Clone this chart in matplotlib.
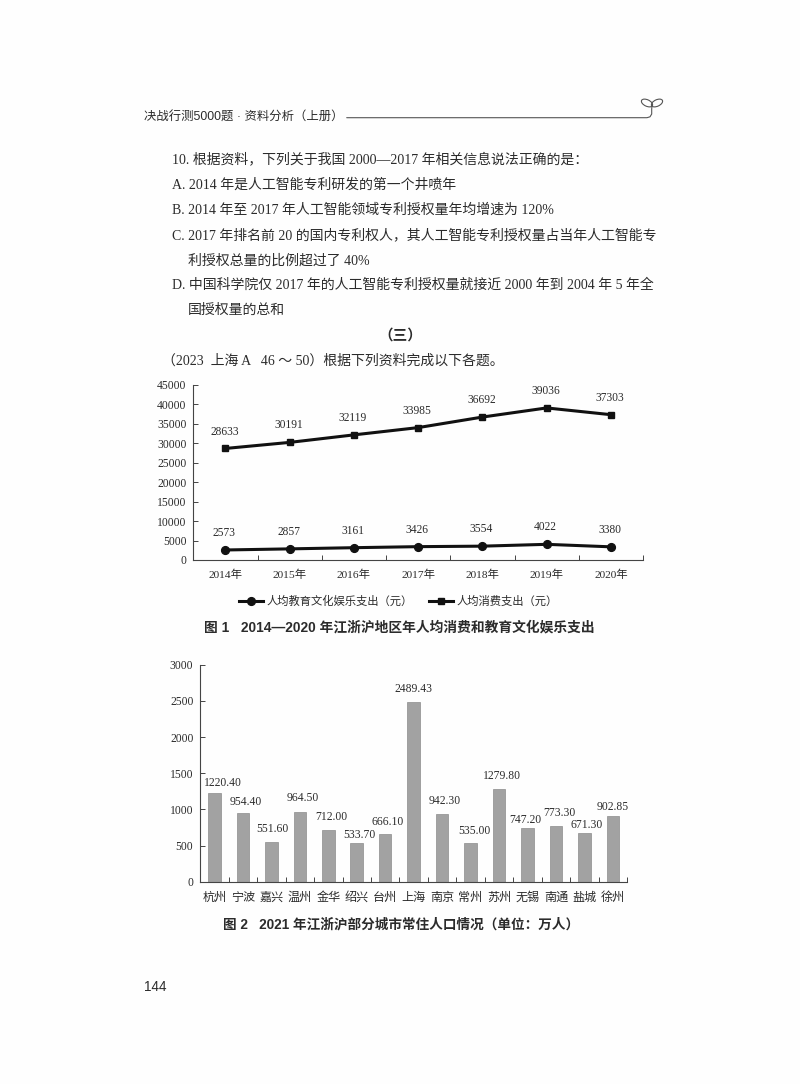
import matplotlib
matplotlib.use('Agg')
import matplotlib.pyplot as plt
from matplotlib.patches import Ellipse

SERIF = ['Liberation Serif', 'Noto Sans CJK SC', 'DejaVu Sans']
SANS = ['Liberation Sans', 'Noto Sans CJK SC', 'DejaVu Sans']
INK = '#2b2b2b'

# Figure 1
years = ['2014年', '2015年', '2016年', '2017年', '2018年', '2019年', '2020年']
edu_spend = [2573, 2857, 3161, 3426, 3554, 4022, 3380]
total_spend = [28633, 30191, 32119, 33985, 36692, 39036, 37303]
yticks_1 = [0, 5000, 10000, 15000, 20000, 25000, 30000, 35000, 40000, 45000]

# Figure 2
cities = ['杭州', '宁波', '嘉兴', '温州', '金华', '绍兴', '台州', '上海',
          '南京', '常州', '苏州', '无锡', '南通', '盐城', '徐州']
population = [1220.40, 954.40, 551.60, 964.50, 712.00, 533.70, 666.10, 2489.43,
              942.30, 535.00, 1279.80, 747.20, 773.30, 671.30, 902.85]
pop_labels = ['1220.40', '954.40', '551.60', '964.50', '712.00', '533.70', '666.10', '2489.43',
              '942.30', '535.00', '1279.80', '747.20', '773.30', '671.30', '902.85']
yticks_2 = [0, 500, 1000, 1500, 2000, 2500, 3000]

# label nudges for figure 2, in pixels from the bar top centre
pop_dx = [8, 3, 1, 3, 3, 3, 2, 0, 3, 3.5, 3, -2, 3, 2, 0]
pop_dy = [10, 10.5, 13, 13.5, 13, 8, 12, 13, 13, 12, 13, 8, 13, 8, 9]

# page text: x, y in pixels, text
body_lines = [
    (172, 159.5, '10. 根据资料，下列关于我国 2000—2017 年相关信息说法正确的是：'),
    (172, 184.5, 'A. 2014 年是人工智能专利研发的第一个井喷年'),
    (172, 210, 'B. 2014 年至 2017 年人工智能领域专利授权量年均增速为 120%'),
    (172, 235, 'C. 2017 年排名前 20 的国内专利权人，其人工智能专利授权量占当年人工智能专'),
    (188, 260.5, '利授权总量的比例超过了 40%'),
    (172, 285.5, 'D. 中国科学院仅 2017 年的人工智能专利授权量就接近 2000 年到 2004 年 5 年全'),
    (188, 310.5, '国授权量的总和'),
    (162, 361, '（2023  上海 A   46 ～ 50）根据下列资料完成以下各题。'),
]

W, H = 800, 1084


def axes_px(fig, left, top, right, bottom):
    return fig.add_axes([left / W, 1 - bottom / H, (right - left) / W, (bottom - top) / H])


def style_axes(ax, n, yticks, ymax, label_pad):
    ax.set_xlim(0, n)
    ax.set_ylim(0, ymax)
    ax.set_yticks(yticks)
    ax.set_xticks(range(n + 1))
    ax.set_xticklabels([])
    ax.set_xticks([i + 0.5 for i in range(n)], minor=True)
    ax.tick_params(axis='both', which='major', direction='in', length=3.4, width=0.7, color='#444444')
    ax.tick_params(axis='x', which='minor', length=0, pad=label_pad)
    ax.tick_params(axis='y', pad=5)
    for side in ['top', 'right']:
        ax.spines[side].set_visible(False)
    for side in ['left', 'bottom']:
        ax.spines[side].set_linewidth(0.8)
        ax.spines[side].set_color('#444444')
    ax.patch.set_alpha(0)
    for lab in ax.get_yticklabels():
        lab.set(family=SERIF, fontsize=8.4, color=INK)


fig = plt.figure(figsize=(8, 10.84), dpi=100, facecolor='#fefefe')

# page layer in pixel coordinates
page = fig.add_axes([0, 0, 1, 1])
page.set_xlim(0, W)
page.set_ylim(H, 0)
page.axis('off')

page.text(144, 118, '决战行测5000题 · 资料分析（上册）', family=SANS, fontsize=8.9,
          color=INK, va='center', ha='left')
page.plot([346.7, 647, 650, 651.7, 651.7, 652], [117.7, 117.7, 116.8, 114, 109, 106],
          color='#555555', lw=0.8, solid_capstyle='round')
page.add_patch(Ellipse((647, 103), 12, 6.5, angle=25, fc='none', ec='#555555', lw=0.8))
page.add_patch(Ellipse((657, 103), 12, 6.5, angle=-25, fc='none', ec='#555555', lw=0.8))

for x, y, txt in body_lines:
    page.text(x, y, txt, family=SERIF, fontsize=10, color=INK, va='center', ha='left')
page.text(400, 336, '（三）', family=SANS, fontsize=10.5, color=INK, va='center', ha='center',
          fontweight='bold')

page.text(399.5, 627, '图 1   2014—2020 年江浙沪地区年人均消费和教育文化娱乐支出', family=SANS,
          fontsize=9.9, fontweight='bold', color=INK, va='center', ha='center')
page.text(401.5, 925, '图 2   2021 年江浙沪部分城市常住人口情况（单位：万人）', family=SANS,
          fontsize=9.8, fontweight='bold', color=INK, va='center', ha='center')
page.text(144, 987, '144', family=SANS, fontsize=9.8, color=INK, va='center', ha='left')

# line chart
ax1 = axes_px(fig, 193.3, 384.7, 643, 560)
style_axes(ax1, len(years), yticks_1, 45000, 13)
ax1.set_xticklabels(years, minor=True, family=SERIF, fontsize=8.2, color=INK, va='baseline')
xs = [i + 0.5 for i in range(len(years))]
ax1.plot(xs, edu_spend, color='#111111', lw=2.2, marker='o', ms=5.6, label='人均教育文化娱乐支出（元）')
ax1.plot(xs, total_spend, color='#111111', lw=2.2, marker='s', ms=4.8, label='人均消费支出（元）')
for series in [edu_spend, total_spend]:
    for x, v in zip(xs, series):
        ax1.annotate(str(v), (x, v), xytext=(-0.7, 12.2), textcoords='offset points', ha='center',
                     va='center', family=SERIF, fontsize=8.3, color=INK)
leg = ax1.legend(loc='center', bbox_to_anchor=(0.456, -0.235), ncol=2, frameon=False,
                 prop={'family': SERIF, 'size': 8.15}, labelcolor=INK, handlelength=2.1,
                 columnspacing=1.4, handletextpad=0.35, borderpad=0)

# bar chart
ax2 = axes_px(fig, 200.3, 664.7, 627, 881.7)
style_axes(ax2, len(cities), yticks_2, 3000, 13.9)
ax2.set_xticklabels(cities, minor=True, family=SERIF, fontsize=8.7, color=INK, va='baseline')
xs2 = [i + 0.5 for i in range(len(cities))]
ax2.bar(xs2, population, width=0.44, color='#a2a2a2', edgecolor='#8c8c8c', linewidth=0.5, zorder=2)
for x, v, lab, dx, dy in zip(xs2, population, pop_labels, pop_dx, pop_dy):
    ax2.annotate(lab, (x, v), xytext=(dx * 0.72, dy * 0.72), textcoords='offset points', ha='center',
                 va='center', family=SERIF, fontsize=8.4, color=INK)

fig.savefig('out.png', dpi=100, facecolor=fig.get_facecolor())
